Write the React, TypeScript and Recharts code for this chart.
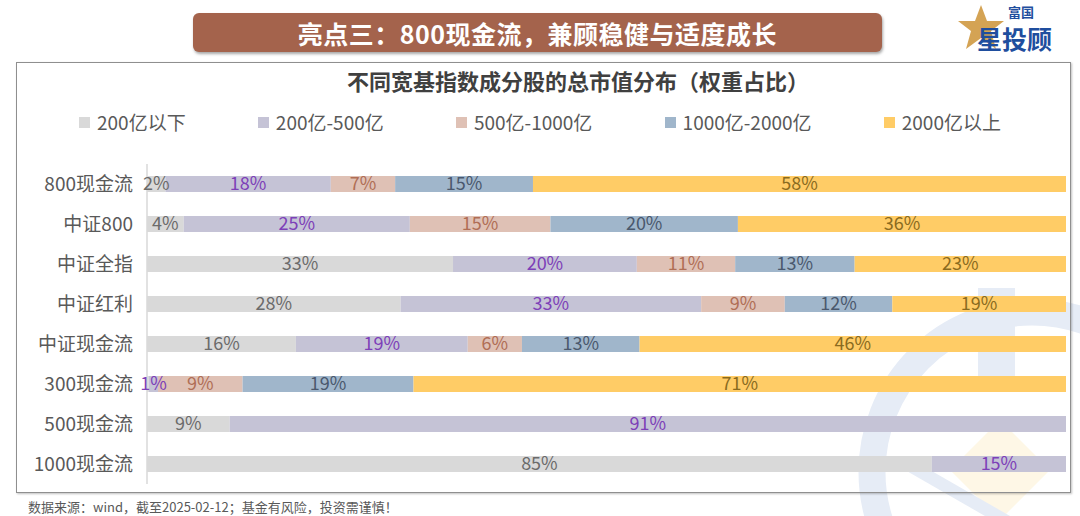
import React from 'react';
import { BarChart, Bar, XAxis, YAxis, LabelList } from 'recharts';

const categories = ['800现金流', '中证800', '中证全指', '中证红利', '中证现金流', '300现金流', '500现金流', '1000现金流'];
const under200 = [2, 4, 33.3, 27.6, 16.2, 0.2, 9.0, 85.4];
const from200to500 = [18, 24.6, 20.0, 32.7, 18.7, 1.0, 91.0, 14.6];
const from500to1000 = [7, 15.3, 10.7, 9.1, 5.9, 9.2, 0, 0];
const from1000to2000 = [15, 20.4, 13.0, 11.7, 12.8, 18.6, 0, 0];
const over2000 = [58, 35.7, 23.0, 18.9, 46.4, 71.0, 0, 0];

const seriesNames = ['200亿以下', '200亿-500亿', '500亿-1000亿', '1000亿-2000亿', '2000亿以上'];
const seriesValues = [under200, from200to500, from500to1000, from1000to2000, over2000];
const seriesKeys = ['s0', 's1', 's2', 's3', 's4'];
const barColors = ['#d9d9d9', '#c5c3d6', '#dfc1b5', '#a0b6cb', '#ffcc66'];
const labelColors = ['#6b6b6b', '#7d40b8', '#b06e55', '#4a586d', '#8a6b1f'];

const data = categories.map((name, i) => {
  const row: Record<string, any> = { name };
  seriesKeys.forEach((k, j) => {
    row[k] = seriesValues[j][i];
  });
  return row;
});

const FONT = '"Noto Sans CJK SC", "Noto Sans", sans-serif';

const fmt = (v: any) => {
  const n = Number(v);
  if (!n || n < 0.5) return '';
  return Math.round(n) + '%';
};

export default function App() {
  return (
    <div style={{ position: 'absolute', left: 0, top: 0, width: 1080, height: 516, background: '#fff', overflow: 'hidden', fontFamily: FONT }}>
      {/* watermark */}
      <svg width={1080} height={516} style={{ position: 'absolute', left: 0, top: 0 }}>
        <circle cx={1032} cy={472} r={160} fill="none" stroke="#e6ecf6" strokeWidth={27} />
        <rect x={978} y={288} width={37} height={92} fill="#e6ecf6" />
        <polygon points="1000,420 1050,470 1000,520 950,470" fill="#fef7e6" />
        <polygon points="905,470 930,470 1010,516 985,516" fill="#e6ecf6" />
      </svg>
      {/* chart box */}
      <div style={{ position: 'absolute', left: 16, top: 62, width: 1053, height: 429, border: '1.5px solid #8f8f8f', boxShadow: '1px 1px 2px rgba(0,0,0,0.25)' }} />
      {/* banner */}
      <div style={{ position: 'absolute', left: 193, top: 13, width: 689, height: 39, background: '#a4634c', borderRadius: 6, boxShadow: '1px 2px 3px rgba(0,0,0,0.35)', color: '#fff', fontWeight: 700, fontSize: 25, display: 'flex', alignItems: 'center', justifyContent: 'center', letterSpacing: 0.5 }}>
        亮点三：800现金流，兼顾稳健与适度成长
      </div>
      {/* logo */}
      <svg width={110} height={56} style={{ position: 'absolute', left: 955, top: 0 }}>
        <polygon points="26,5 32,21 49,21 36,31 41,49 26,38 11,49 16,31 3,21 20,21" fill="#d4a354" />
        <text x={53} y={17} fontSize={13} fontWeight={700} fill="#1f4e9e" fontFamily={FONT}>富国</text>
        <text x={22} y={49} fontSize={25} fontWeight={700} fill="#1f4e9e" fontFamily={FONT}>星投顾</text>
      </svg>
      {/* title */}
      <div style={{ position: 'absolute', left: 0, top: 64, width: 1156, textAlign: 'center', fontSize: 22, fontWeight: 700, color: '#404040' }}>
        不同宽基指数成分股的总市值分布（权重占比）
      </div>
      {/* legend */}
      <div style={{ position: 'absolute', top: 111, left: 79, width: 922, display: 'flex', justifyContent: 'space-between' }}>
        {seriesNames.map((n, i) => (
          <div key={n} style={{ display: 'flex', alignItems: 'center' }}>
            <span style={{ display: 'inline-block', width: 11, height: 11, background: barColors[i], marginRight: 7 }} />
            <span style={{ fontSize: 19, color: '#595959', lineHeight: '22px' }}>{n}</span>
          </div>
        ))}
      </div>
      <div style={{ position: 'absolute', left: 0, top: 0 }}>
        <BarChart
          width={1080}
          height={516}
          data={data}
          layout="vertical"
          margin={{ top: 164, right: 14, bottom: 32, left: 27 }}
        >
          <XAxis type="number" domain={[0, 100]} hide />
          <YAxis
            type="category"
            dataKey="name"
            width={120}
            axisLine={{ stroke: '#d9d9d9', strokeWidth: 1.5 }}
            tickLine={false}
            tickMargin={8}
            tick={{ fill: '#595959', fontSize: 19, fontFamily: FONT }}
            interval={0}
          />
          {seriesKeys.map((k, j) => (
            <Bar key={k} dataKey={k} name={seriesNames[j]} stackId="a" fill={barColors[j]} barSize={16} isAnimationActive={false}>
              <LabelList
                dataKey={k}
                position="center"
                formatter={fmt}
                fill={labelColors[j]}
                style={{ fontSize: 18, fontFamily: FONT }}
              />
            </Bar>
          ))}
        </BarChart>
      </div>
      {/* footer */}
      <div style={{ position: 'absolute', left: 28, top: 497, fontSize: 13, color: '#595959', whiteSpace: 'nowrap' }}>
        数据来源：wind，截至2025-02-12；基金有风险，投资需谨慎！
      </div>
    </div>
  );
}
